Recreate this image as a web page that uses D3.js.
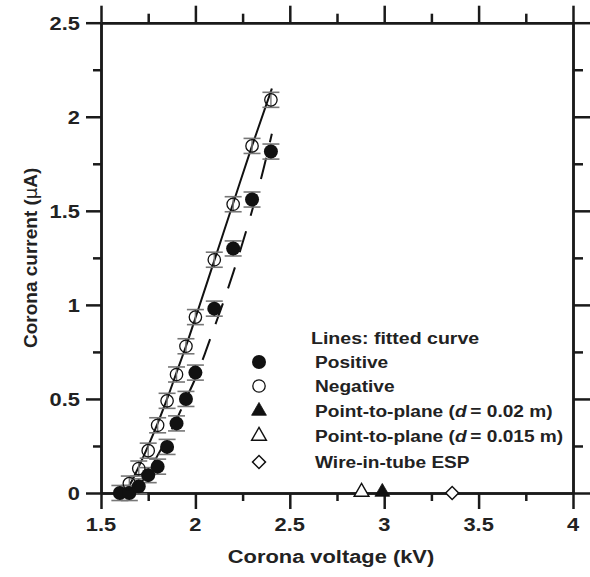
<!DOCTYPE html>
<html><head><meta charset="utf-8">
<script src="https://cdn.jsdelivr.net/npm/d3@7"></script>
<style>
body{margin:0;background:#fff;}
text{font-family:"Liberation Sans",Arial,sans-serif;font-weight:bold;fill:#222;}
</style></head>
<body><svg id="c" width="590" height="577"></svg>
<script>
// ---- data ----
const negVoltage = [1.65,1.70,1.75,1.80,1.85,1.90,1.95,2.00,2.10,2.20,2.30,2.40];
const negCurrent = [0.05,0.13,0.225,0.36,0.49,0.63,0.78,0.935,1.24,1.535,1.845,2.09];
const posVoltage = [1.60,1.65,1.70,1.75,1.80,1.85,1.90,1.95,2.00,2.10,2.20,2.30,2.40];
const posCurrent = [0.0,0.0,0.035,0.095,0.14,0.245,0.37,0.50,0.64,0.98,1.30,1.56,1.815];
const errorHalf = 0.04;
const negFitV = [1.62,1.65,1.70,1.75,1.80,1.85,1.90,1.95,2.00,2.10,2.20,2.30,2.405];
const negFitI = [0.0,0.04,0.14,0.25,0.37,0.50,0.64,0.78,0.93,1.235,1.54,1.845,2.15];
const posFitV = [1.66,1.70,1.75,1.80,1.85,1.90,1.95,2.00,2.05,2.10,2.15,2.20,2.25,2.30,2.35,2.405];
const posFitI = [0.0,0.04,0.11,0.20,0.29,0.39,0.50,0.61,0.74,0.88,1.02,1.17,1.33,1.50,1.68,1.91];
const ptpFilledV = [2.99], ptpFilledI = [0];
const ptpOpenV = [2.88], ptpOpenI = [0];
const wireV = [3.36], wireI = [0];
const xTicks = [1.5,2,2.5,3,3.5,4];
const xTickLabels = ["1.5","2","2.5","3","3.5","4"];
const yTicks = [0,0.5,1,1.5,2,2.5];
const yTickLabels = ["0","0.5","1","1.5","2","2.5"];
const xMinor = [1.75,2.25,2.75,3.25,3.75];
const yMinor = [0.25,0.75,1.25,1.75,2.25];
const legendLabels = ["Positive","Negative","Point-to-plane","Point-to-plane","Wire-in-tube ESP"];

// ---- layout ----
const L=101, R=573, T=22.7, B=493;
const SX = 1.15;           // horizontal stretch of the original lettering
const FS = 19, LFS = 16.6;
const svg = d3.select("#c");
const x = d3.scaleLinear().domain([1.5,4]).range([L,R]);
const y = d3.scaleLinear().domain([0,2.5]).range([B,T]);
const AX = 2.5, MAJ=16, MIN=8;

function styleAxis(g){
  g.selectAll("path.domain").attr("stroke","#1a1a1a").attr("stroke-width",AX);
  g.selectAll(".tick line").attr("stroke","#1a1a1a").attr("stroke-width",AX);
  g.selectAll(".tick text").remove();
}
function ax(gen, tx, ty){ svg.append("g").attr("transform",`translate(${tx},${ty})`).call(gen).call(styleAxis); }
ax(d3.axisBottom(x).tickValues(xTicks).tickSize(MAJ).tickSizeOuter(0), 0, B);
ax(d3.axisBottom(x).tickValues(xMinor).tickSize(MIN).tickSizeOuter(0), 0, B);
ax(d3.axisTop(x).tickValues(xTicks).tickSize(MAJ+1).tickSizeOuter(0), 0, T);
ax(d3.axisTop(x).tickValues(xMinor).tickSize(MIN+1).tickSizeOuter(0), 0, T);
ax(d3.axisLeft(y).tickValues(yTicks).tickSize(MAJ-1).tickSizeOuter(0), L, 0);
ax(d3.axisLeft(y).tickValues(yMinor).tickSize(MIN).tickSizeOuter(0), L, 0);
ax(d3.axisRight(y).tickValues(yTicks).tickSize(MAJ+1).tickSizeOuter(0), R, 0);
ax(d3.axisRight(y).tickValues(yMinor).tickSize(MIN+2).tickSizeOuter(0), R, 0);

function stext(px, py, anchor, size){
  return svg.append("text").attr("transform",`translate(${px},${py}) scale(${SX},1)`)
    .attr("text-anchor",anchor).attr("font-size",size);
}
// tick labels
xTicks.forEach((v,i)=>stext(x(v), 531, "middle", FS).text(xTickLabels[i]));
yTicks.forEach((v,i)=>stext(80, y(v)+6.8, "end", FS).text(yTickLabels[i]));

// axis titles
stext((L+R)/2 - 6, 563, "middle", FS).text("Corona voltage (kV)");
const yt = svg.append("text").attr("transform",`translate(37,${(T+B)/2}) rotate(-90)`)
  .attr("text-anchor","middle").attr("font-size",FS);
yt.append("tspan").text("Corona current (");
yt.append("tspan").attr("font-weight","normal").attr("font-family","DejaVu Sans, sans-serif").attr("font-size",FS-1).text("μ");
yt.append("tspan").text("A)");

// fitted lines
const line = d3.line().x(d=>x(d[0])).y(d=>y(d[1])).curve(d3.curveMonotoneX);
const negFit = negFitV.map((v,i)=>[v,negFitI[i]]);
const posFit = posFitV.map((v,i)=>[v,posFitI[i]]);
svg.append("path").attr("d",line(negFit)).attr("fill","none").attr("stroke","#111").attr("stroke-width",2);
svg.append("path").attr("d",line(posFit)).attr("fill","none").attr("stroke","#111").attr("stroke-width",2)
  .attr("stroke-dasharray","22,16");

// error bars
function errBars(vs, is){
  const g = svg.append("g");
  vs.forEach((v,i)=>{
    const cx=x(v), y1=y(is[i]+errorHalf), y2=y(is[i]-errorHalf);
    g.append("line").attr("x1",cx).attr("x2",cx).attr("y1",y1).attr("y2",y2).attr("stroke","#777").attr("stroke-width",1.4);
    [y1,y2].forEach(yy=>g.append("line").attr("x1",cx-8.5).attr("x2",cx+8.5).attr("y1",yy).attr("y2",yy)
      .attr("stroke","#777").attr("stroke-width",1.6));
  });
}
errBars(negVoltage,negCurrent);
errBars(posVoltage,posCurrent);

// markers
const R0 = 7;
svg.append("g").selectAll("circle").data(posVoltage).join("circle")
  .attr("cx",d=>x(d)).attr("cy",(d,i)=>y(posCurrent[i])).attr("r",R0).attr("fill","#111");
svg.append("g").selectAll("circle").data(negVoltage).join("circle")
  .attr("cx",d=>x(d)).attr("cy",(d,i)=>y(negCurrent[i])).attr("r",R0-0.8).attr("fill","none")
  .attr("stroke","#111").attr("stroke-width",1.3);

const triSym = d3.symbol().type(d3.symbolTriangle).size(95);
const diaSym = d3.symbol().type(d3.symbolSquare).size(84);
function tri(cx,cy,filled){
  svg.append("path").attr("d",triSym()).attr("transform",`translate(${cx},${cy})`)
    .attr("fill",filled?"#111":"#fff").attr("stroke","#111").attr("stroke-width",filled?0.8:1.4);
}
function dia(cx,cy){
  svg.append("path").attr("d",diaSym()).attr("transform",`translate(${cx},${cy}) rotate(45)`)
    .attr("fill","#fff").attr("stroke","#111").attr("stroke-width",1.5);
}
ptpOpenV.forEach((v,i)=>tri(x(v),y(ptpOpenI[i])-1,false));
ptpFilledV.forEach((v,i)=>tri(x(v),y(ptpFilledI[i])-1,true));
wireV.forEach((v,i)=>dia(x(v),y(wireI[i])));

// legend
const lgX = 259, txX = 315;
stext(311, 344, "start", LFS+0.4).text("Lines: fitted curve");
const rows = [362,386,411,436,462];
svg.append("circle").attr("cx",lgX).attr("cy",rows[0]).attr("r",R0).attr("fill","#111");
svg.append("circle").attr("cx",lgX).attr("cy",rows[1]).attr("r",R0-0.8).attr("fill","none").attr("stroke","#111").attr("stroke-width",1.3);
tri(lgX,rows[2],true);
tri(lgX,rows[3],false);
dia(lgX,rows[4]);
legendLabels.forEach((lab,i)=>{
  const t = stext(txX, rows[i]+6, "start", LFS);
  t.append("tspan").text(lab);
  if(i===2||i===3){
    t.append("tspan").text(" (");
    t.append("tspan").attr("font-style","italic").text("d");
    t.append("tspan").text(i===2?"\u2009= 0.02 m)":"\u2009= 0.015 m)");
  }
});
</script></body></html>
